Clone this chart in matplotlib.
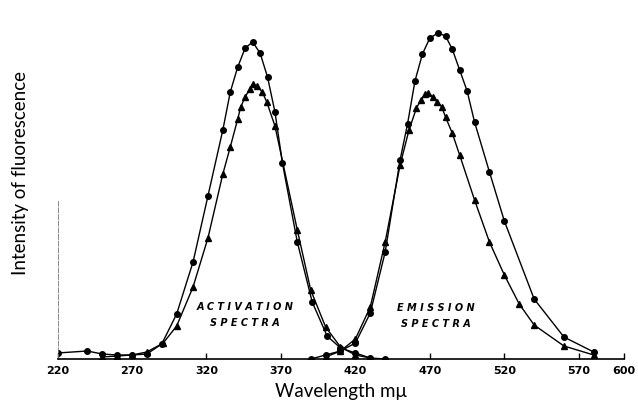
import matplotlib.pyplot as plt

# activation spectra (wavelength, relative intensity)
act_circ_x = [220, 240, 250, 260, 270, 280, 290, 300, 311, 321, 331, 336, 341, 346, 351, 356, 361, 366, 371, 381, 391, 401, 410, 420, 430, 440]
act_circ_y = [6, 8, 5, 4, 4, 5, 15, 45, 97, 163, 229, 267, 292, 311, 317, 306, 282, 247, 196, 117, 57, 23, 11, 6, 1, 0]
act_tri_x = [250, 260, 270, 280, 291, 300, 311, 321, 331, 336, 341, 343, 346, 349, 351, 354, 357.5, 360.5, 366, 381, 390, 400, 410, 420, 430]
act_tri_y = [2, 3, 4, 7, 16, 33, 72, 121, 185, 212, 240, 252, 262, 270, 275, 273, 267, 257, 233, 129, 69, 32, 12, 4, 1]

# emission spectra
em_circ_x = [390, 400, 410, 420, 430, 440, 450, 455, 460, 465, 470, 475.5, 480.5, 485, 490, 495, 500, 510, 520, 540, 560, 580]
em_circ_y = [0, 4, 8, 16, 46, 107, 199, 235, 278, 305, 321, 326, 323, 310, 289, 268, 237, 187, 138, 60, 22, 7]
em_tri_x = [400, 410, 420, 430, 440, 450, 456, 461, 464, 467, 469, 472, 475, 478, 480.5, 485, 490, 500, 510, 520, 530, 540, 560, 580]
em_tri_y = [2, 8, 20, 52, 117, 194, 229, 251, 259, 265, 266, 262, 257, 252, 242, 226, 204, 159, 117, 84, 55, 34, 13, 4]

tick_vals = [220, 270, 320, 370, 420, 470, 520, 570, 600]

fig = plt.figure(figsize=(6.38, 4.08), dpi=100)
ax = fig.add_axes([57.5 / 638, 49 / 408, 566 / 638, 339 / 408])

style = dict(color="black", linewidth=1.0, markersize=4)
ax.plot(act_circ_x, act_circ_y, marker="o", **style)
ax.plot(act_tri_x, act_tri_y, marker="^", **style)
ax.plot(em_circ_x, em_circ_y, marker="o", **style)
ax.plot(em_tri_x, em_tri_y, marker="^", **style)

ax.set_xlim(220, 600)
ax.set_ylim(0, 339)

# spectrum labels
lab = dict(ha="center", va="center", fontsize=7, fontweight="bold", style="italic")
ax.text(346, 52, "A C T I V A T I O N", **lab)
ax.text(346, 36, "S P E C T R A", **lab)
ax.text(474, 51, "E M I S S I O N", **lab)
ax.text(474, 35, "S P E C T R A", **lab)

# axes styling
for s in ["top", "right"]:
    ax.spines[s].set_visible(False)
ax.spines["bottom"].set_linewidth(1.2)
ax.spines["left"].set_linewidth(0.6)
ax.spines["left"].set_color("#777777")
ax.spines["left"].set_linestyle((0, (6, 2)))
ax.spines["left"].set_bounds(0, 158)
ax.set_yticks([])
ax.set_xticks(tick_vals)
ax.set_xticklabels([str(v) for v in tick_vals], fontsize=8, fontweight="heavy")
ax.tick_params(axis="x", direction="in", length=4, width=1, pad=5)

fig.text(341 / 638, 1 - 392 / 408, "Wavelength m\u03bc", ha="center", va="center", fontsize=13.5, family="Lato")
fig.text(21 / 638, 1 - 173 / 408, "Intensity of fluorescence", ha="center", va="center", fontsize=13.5, family="Lato", rotation=90)

plt.savefig("out.png", dpi=100)
